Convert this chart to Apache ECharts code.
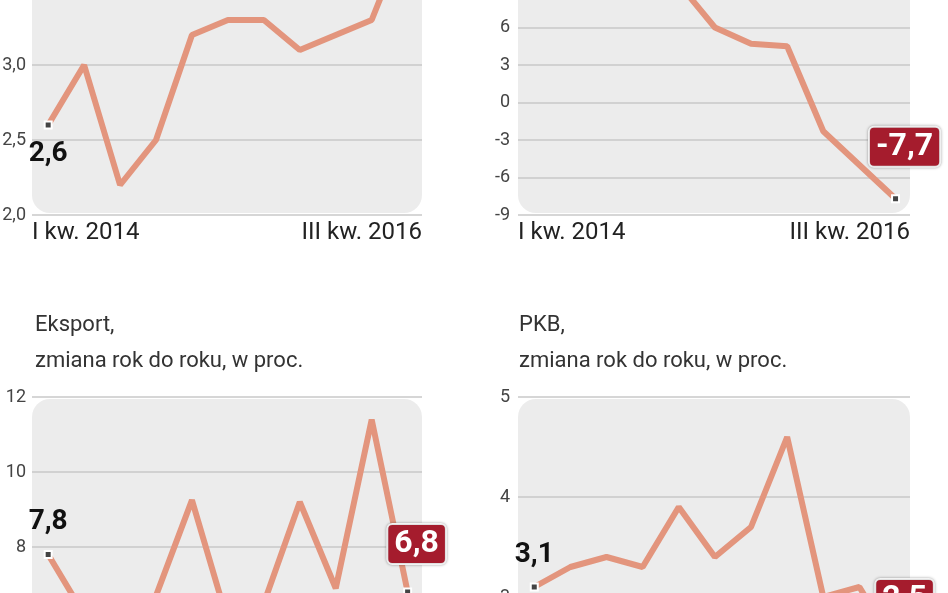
<!DOCTYPE html>
<html>
<head>
<meta charset="utf-8">
<script src="https://cdn.jsdelivr.net/npm/echarts@6/dist/echarts.min.js"></script>
<style>html,body{margin:0;padding:0;background:#fff}#c{width:948px;height:593px}</style>
</head>
<body>
<div id="c"></div>
<script>
// kwartały I 2014 .. III 2016
const quarters = ['I kw. 2014','II kw. 2014','III kw. 2014','IV kw. 2014','I kw. 2015','II kw. 2015',
  'III kw. 2015','IV kw. 2015','I kw. 2016','II kw. 2016','III kw. 2016'];
const seriesA = [2.6, 3.0, 2.2, 2.5, 3.2, 3.3, 3.3, 3.1, 3.2, 3.3, 3.9];
const seriesB = [14, 13, 12, 11, 9.5, 6.0, 4.7, 4.5, -2.3, -5.0, -7.7];
const eksport = [7.8, 6.2, 6.0, 6.7, 9.25, 6.0, 6.5, 9.2, 6.9, 11.4, 6.8];
const pkb = [3.1, 3.3, 3.4, 3.3, 3.9, 3.4, 3.7, 4.6, 3.0, 3.1, 2.5];
const titles = ['Eksport,\nzmiana rok do roku, w proc.', 'PKB,\nzmiana rok do roku, w proc.'];

const comma = v => String(v).replace('.', ',');
const lineColor = '#e3957d';
const grids = [
  {left: 32, right: 526, top: -10, bottom: 378, outerBoundsMode: 'none', containLabel: false},
  {left: 518, right: 38, top: -10, bottom: 378, outerBoundsMode: 'none', containLabel: false},
  {left: 32, right: 526, top: 397, bottom: -29, outerBoundsMode: 'none', containLabel: false},
  {left: 518, right: 38, top: 397, bottom: -104, outerBoundsMode: 'none', containLabel: false}
];
const yCfg = [
  {min: 2, max: 3.5, interval: 0.5, fmt: v => v.toFixed(1).replace('.', ',')},
  {min: -9, max: 9, interval: 3, fmt: v => String(v)},
  {min: 6, max: 12, interval: 2, fmt: v => String(v)},
  {min: 2, max: 5, interval: 1, fmt: v => String(v)}
];
const all = [seriesA, seriesB, eksport, pkb];

const firstLabel = [
  {position: 'bottom', distance: 10},
  null,
  {position: 'top', distance: 14},
  {position: 'top', distance: 14}
];
const lastLabel = [null, {offset: [9, -52]}, {offset: [9, -48]}, {offset: [9, -48]}];

function build(vals, k) {
  return vals.map((v, i) => {
    const item = {value: [i, v]};
    if (i === 0) {
      item.symbol = 'rect';
      item.symbolSize = 7;
      if (firstLabel[k]) {
        item.label = Object.assign({show: true, formatter: comma(v), color: '#111',
          fontSize: 28, fontWeight: 'bold', fontFamily: 'Roboto'}, firstLabel[k]);
      }
    } else if (i === vals.length - 1 && lastLabel[k]) {
      item.symbol = 'rect';
      item.symbolSize = 7;
      item.label = Object.assign({show: true, position: 'inside', formatter: comma(v), color: '#fff',
        fontSize: 32, fontWeight: 'bold', fontFamily: 'Roboto', backgroundColor: '#a51c2d',
        borderColor: '#fff', borderWidth: 2, borderRadius: 4, padding: [4, 6, 2, 6],
        shadowColor: 'rgba(0,0,0,0.35)', shadowBlur: 3}, lastLabel[k]);
    }
    return item;
  });
}

const chart = echarts.init(document.getElementById('c'));
chart.setOption({
  animation: false,
  title: titles.map((t, i) => ({
    text: t, left: i === 0 ? 30 : 514, top: 302,
    textStyle: {fontSize: 22, fontWeight: 'normal', color: '#333', lineHeight: 36, fontFamily: 'Roboto'}
  })),
  graphic: grids.map(g => ({
    type: 'rect', silent: true, z: -10,
    shape: {x: g.left, y: g.top < 0 ? -20 : g.top + 2, width: 948 - g.left - g.right, height: (g.top < 0 ? 233 : 300), r: 18},
    style: {fill: '#ececec'}
  })),
  grid: grids,
  xAxis: grids.map((g, k) => ({
    type: 'value', gridIndex: k, min: -0.45, max: 10.4,
    axisLine: {show: false}, axisTick: {show: false}, splitLine: {show: false},
    axisLabel: {
      show: k < 2, customValues: [-0.45, 10.4], margin: 6,
      formatter: v => v < 0 ? quarters[0] : quarters[quarters.length - 1],
      alignMinLabel: 'left', alignMaxLabel: 'right',
      fontSize: 24, color: '#222', fontFamily: 'Roboto'
    }
  })),
  yAxis: yCfg.map((c, k) => ({
    type: 'value', gridIndex: k, min: c.min, max: c.max, interval: c.interval,
    axisLine: {show: false}, axisTick: {show: false},
    splitLine: {lineStyle: {color: '#c9c9c9', width: 1.5}},
    axisLabel: {formatter: c.fmt, fontSize: 18, color: '#444', margin: k % 2 ? 8 : 6,
      fontFamily: 'Roboto', showMinLabel: true}
  })),
  series: all.map((vals, k) => ({
    type: 'line', xAxisIndex: k, yAxisIndex: k,
    data: build(vals, k),
    symbol: 'none', clip: true,
    lineStyle: {color: lineColor, width: 6},
    itemStyle: {color: '#444', borderColor: '#fff', borderWidth: 2},
    z: 3
  }))
});
</script>
</body>
</html>
